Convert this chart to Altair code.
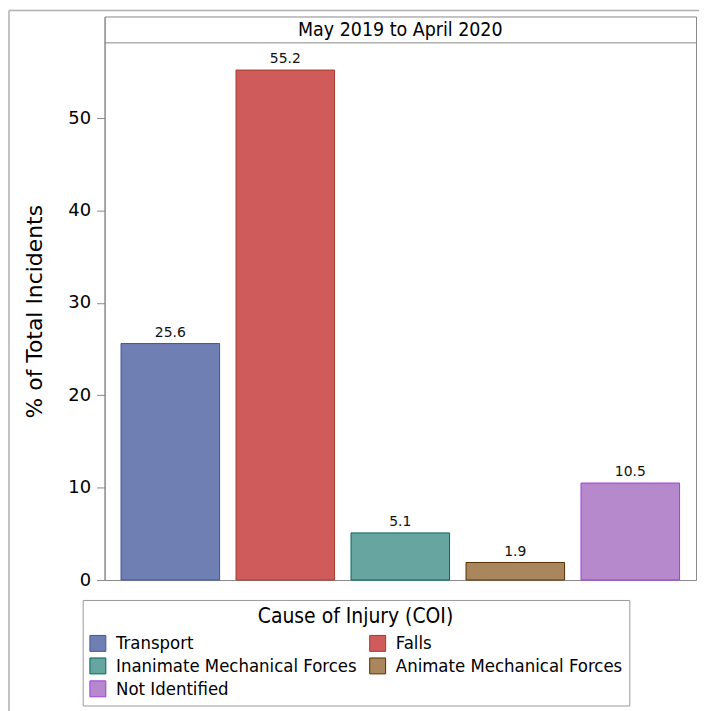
import altair as alt
import pandas as pd

categories = ["Transport", "Falls", "Inanimate Mechanical Forces",
              "Animate Mechanical Forces", "Not Identified"]
values = [25.6, 55.2, 5.1, 1.9, 10.5]
fill_colors = ["#6F7EB3", "#D05B5B", "#66A5A0", "#A9865B", "#B689CD"]
stroke_colors = ["#445694", "#A23A2E", "#01665E", "#543005", "#9D3CDB"]
y_ticks = [0, 10, 20, 30, 40, 50]
header_text = "May 2019 to April 2020"
legend_title = "Cause of Injury (COI)"
y_title = "% of Total Incidents"

df = pd.DataFrame({"COI": categories, "pct": values,
                   "label": [f"{v:.1f}" for v in values]})

NARROW = "DejaVu Sans Condensed, sans-serif"
W, H = 594, 566
YMAX = 61.0

x_enc = alt.X("COI:N", sort=categories, axis=None,
              scale=alt.Scale(paddingInner=0.143, paddingOuter=0.143, align=0.5))
y_scale = alt.Scale(domain=[0, YMAX], nice=False, zero=True)

bars = alt.Chart(df).mark_bar(strokeWidth=1, opacity=1).encode(
    x=x_enc,
    y=alt.Y("pct:Q", scale=y_scale,
            axis=alt.Axis(values=y_ticks, title=y_title, grid=False,
                          labelFont="DejaVu Sans", labelFontSize=18,
                          labelColor="#000", labelPadding=6,
                          tickSize=8, tickColor="#888", domainColor="#888",
                          titleFont="DejaVu Sans", titleFontSize=22,
                          titleFontWeight="normal", titleColor="#000",
                          titleX=-70, titleY=296, titleAngle=270,
                          titleAlign="center", titleBaseline="middle")),
    fill=alt.Fill("COI:N", sort=categories,
                  scale=alt.Scale(domain=categories, range=fill_colors),
                  title=legend_title),
    stroke=alt.Stroke("COI:N", sort=categories,
                      scale=alt.Scale(domain=categories, range=stroke_colors),
                      title=legend_title),
)

labels = alt.Chart(df).mark_text(font="DejaVu Sans", fontSize=14, dy=-11,
                                  color="#111").encode(
    x=x_enc,
    y=alt.Y("pct:Q", scale=y_scale),
    text="label:N",
)

hdr = pd.DataFrame({"t": [header_text]})
header_rule = alt.Chart(hdr).mark_rule(color="#888", strokeWidth=1).encode(
    x=alt.value(0), x2=alt.value(W), y=alt.value(26.5))
header_txt = alt.Chart(hdr).mark_text(font=NARROW, fontSize=19.5, color="#000",
                                      baseline="middle").encode(
    x=alt.value(W / 2), y=alt.value(13.5), text="t:N")

border_v = alt.Chart(hdr).mark_rule(color="#b0b0b0", strokeWidth=1.5).encode(
    x=alt.value(-96), y=alt.value(-6), y2=alt.value(H + 140))
border_h = alt.Chart(hdr).mark_rule(color="#b0b0b0", strokeWidth=1.5).encode(
    x=alt.value(-96), x2=alt.value(W + 20), y=alt.value(-6))

chart = alt.layer(bars, labels, header_rule, header_txt, border_v, border_h).properties(
    width=W, height=H, autosize="none",
    padding={"left": 97, "top": 7, "right": 3, "bottom": 130},
).configure_view(stroke="#888", strokeWidth=1).configure_legend(
    orient="none", legendX=-22, legendY=586, columns=2, direction="horizontal",
    symbolType="square", symbolSize=256, symbolStrokeWidth=1,
    labelFont=NARROW, labelFontSize=18.5, labelColor="#000", labelOffset=9,
    titleFont=NARROW, titleFontSize=21, titleFontWeight="normal",
    titleColor="#000", titleAnchor="middle", titlePadding=7, titleLimit=600,
    padding=6, rowPadding=2, columnPadding=10,
    strokeColor="#999", fillColor="#fff", labelLimit=400,
)

chart.save("out.html", embed_options={"renderer": "svg", "actions": False})
